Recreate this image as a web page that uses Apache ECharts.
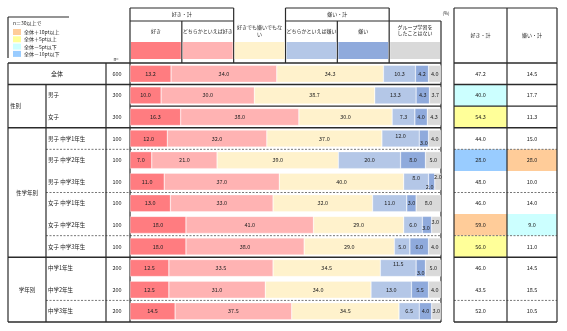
<!DOCTYPE html>
<html>
<head>
<meta charset="utf-8">
<script src="https://cdn.jsdelivr.net/npm/echarts@6/dist/echarts.min.js"></script>
<style>
  html, body { margin: 0; padding: 0; background: #fff; }
  #chart { width: 567px; height: 331px; }
</style>
</head>
<body>
<div id="chart"></div>
<script>
// Row labels and sample sizes
const rowLabels = ['全体', '男子', '女子', '男子 中学1年生', '男子 中学2年生', '男子 中学3年生',
  '女子 中学1年生', '女子 中学2年生', '女子 中学3年生', '中学1年生', '中学2年生', '中学3年生'];
const sampleSizes = [600, 300, 300, 100, 100, 100, 100, 100, 100, 200, 200, 200];

// Answer categories (stack order, left to right)
const seriesNames = ['好き', 'どちらかといえば好き', '好きでも嫌いでもない',
  'どちらかといえば嫌い', '嫌い', 'グループ学習をしたことはない'];

// Percentages per row
const like          = [13.2, 10.0, 16.3, 12.0, 7.0, 11.0, 13.0, 18.0, 18.0, 12.5, 12.5, 14.5];
const ratherLike    = [34.0, 30.0, 38.0, 32.0, 21.0, 37.0, 33.0, 41.0, 38.0, 33.5, 31.0, 37.5];
const neither       = [34.3, 38.7, 30.0, 37.0, 39.0, 40.0, 32.0, 29.0, 29.0, 34.5, 34.0, 34.5];
const ratherDislike = [10.3, 13.3, 7.3, 12.0, 20.0, 8.0, 11.0, 6.0, 5.0, 11.5, 13.0, 6.5];
const dislike       = [4.2, 4.3, 4.0, 3.0, 8.0, 2.0, 3.0, 3.0, 6.0, 3.0, 5.5, 4.0];
const neverDone     = [4.0, 3.7, 4.3, 4.0, 5.0, 2.0, 8.0, 3.0, 4.0, 5.0, 4.0, 3.0];

// Summary columns
const likeTotal    = [47.2, 40.0, 54.3, 44.0, 28.0, 48.0, 46.0, 59.0, 56.0, 46.0, 43.5, 52.0];
const dislikeTotal = [14.5, 17.7, 11.3, 15.0, 28.0, 10.0, 14.0, 9.0, 11.0, 14.5, 18.5, 10.5];

// Legend of the highlight rule (difference from 全体)
const legendTitle = 'n＝30以上で';
const legendItems = ['全体＋10pt以上', '全体＋5pt以上', '全体－5pt以下', '全体－10pt以下'];

const values = [like, ratherLike, neither, ratherDislike, dislike, neverDone];

// ---- styling / layout ----
const COLORS = ['#ff7c80', '#ffb3b3', '#fff2cc', '#b4c7e7', '#8faadc', '#d9d9d9'];
const HILITE = ['#ffcc99', '#ffff99', '#ccffff', '#99ccff'];
const FONT = '"Noto Sans CJK JP", "Noto Sans", sans-serif';
const INK = '#222';
const LINE = '#2b2b2b';

const G = { left: 130, top: 63, width: 311, height: 259 };
const rowH = G.height / rowLabels.length;
const rowTop = i => G.top + rowH * i;
const rowMid = i => G.top + rowH * (i + 0.5);
const X = { outer: 8, sub: 46, n: 106, barL: 130, barR: 441, tL: 454, tM: 507, tR: 557 };

// label nudges for crowded small segments: [row, series] -> offset
const labelNudge = {
  '3-3': [0, -3], '3-4': [0, 4],
  '5-3': [0, -4], '5-4': [-2, 5], '5-5': [0, -5],
  '7-4': [-1, 3], '7-5': [-1, -3],
  '9-3': [0, -4], '9-4': [0, 5]
};

// separators below each row (between row i and i+1)
const rowRules = ['full', 'bar', 'full', 'dash', 'none', 'dash', 'none', 'dash', 'full', 'none', 'dash'];

const groups = [
  { name: '性別', from: 1, to: 2, x: 10, align: 'left' },
  { name: '性学年別', from: 3, to: 8, x: 27, align: 'center' },
  { name: '学年別', from: 9, to: 11, x: 27, align: 'center' }
];

function txt(x, y, text, size, align) {
  return {
    type: 'text', x: x, y: y, silent: true,
    style: { text: text, fill: INK, fontSize: size || 5.5, fontFamily: FONT,
      align: align || 'center', verticalAlign: 'middle' }
  };
}
function seg(x1, y1, x2, y2, width, dash, color) {
  return {
    type: 'line', silent: true,
    shape: { x1: x1, y1: y1, x2: x2, y2: y2 },
    style: { stroke: color || LINE, lineWidth: width || 1.2, lineDash: dash || null }
  };
}
function box(x, y, w, h, color) {
  return { type: 'rect', silent: true, shape: { x: x, y: y, width: w, height: h }, style: { fill: color } };
}

const el = [];

// legend box
el.push(seg(8, 17, 69, 17, 1.2));
el.push(seg(8, 17, 8, 58, 1.2));
el.push(txt(13, 23, legendTitle, 5, 'left'));
legendItems.forEach((t, k) => {
  const y = 32 + k * 7.3;
  el.push(box(13, y - 3, 8, 6, HILITE[k]));
  el.push(txt(24, y, t, 5, 'left'));
});

// header of the bar block
const colW = G.width / 6;
const colX = k => G.left + colW * k;
el.push(seg(colX(0), 8, colX(2), 8));
el.push(seg(colX(3), 8, colX(5), 8));
el.push(seg(colX(0), 21, colX(2), 21));
el.push(seg(colX(3), 21, colX(6), 21));
[0, 2, 3, 5].forEach(k => el.push(seg(colX(k), 8, colX(k), G.top)));
[1, 4, 6].forEach(k => el.push(seg(colX(k), 21, colX(k), G.top)));
el.push(txt((colX(0) + colX(2)) / 2, 14.5, '好き・計', 5));
el.push(txt((colX(3) + colX(5)) / 2, 14.5, '嫌い・計', 5));
el.push(txt((colX(0) + colX(1)) / 2, 31, seriesNames[0], 5));
el.push(txt((colX(1) + colX(2)) / 2, 31, seriesNames[1], 5));
el.push(txt((colX(2) + colX(3)) / 2, 27.5, '好きでも嫌いでもな', 5));
el.push(txt((colX(2) + colX(3)) / 2, 34, 'い', 5));
el.push(txt((colX(3) + colX(4)) / 2, 31, seriesNames[3], 5));
el.push(txt((colX(4) + colX(5)) / 2, 31, seriesNames[4], 5));
el.push(txt((colX(5) + colX(6)) / 2, 27, 'グループ学習を', 5));
el.push(txt((colX(5) + colX(6)) / 2, 33.5, 'したことはない', 5));
COLORS.forEach((c, k) => el.push(box(colX(k) + 1, 42, colW - 2, 17, c)));
el.push(txt(446, 13, '(%)', 4.5));
el.push(txt(116, 59, 'n=', 4.5));

// summary table header
el.push(seg(X.tL, 8, X.tR, 8));
el.push(txt((X.tL + X.tM) / 2, 35, '好き・計', 5));
el.push(txt((X.tM + X.tR) / 2, 35, '嫌い・計', 5));

// summary cells with highlight rule
function hiliteColor(v, base) {
  const d = v - base;
  if (d >= 10) return HILITE[0];
  if (d >= 5) return HILITE[1];
  if (d <= -10) return HILITE[3];
  if (d <= -5) return HILITE[2];
  return null;
}
rowLabels.forEach((lab, i) => {
  if (i > 0 && sampleSizes[i] >= 30) {
    const c1 = hiliteColor(likeTotal[i], likeTotal[0]);
    const c2 = hiliteColor(dislikeTotal[i], dislikeTotal[0]);
    if (c1) el.push(box(X.tL, rowTop(i), X.tM - X.tL, rowH, c1));
    if (c2) el.push(box(X.tM, rowTop(i), X.tR - X.tM, rowH, c2));
  }
  el.push(txt((X.tL + X.tM) / 2, rowMid(i), likeTotal[i].toFixed(1), 5.5));
  el.push(txt((X.tM + X.tR) / 2, rowMid(i), dislikeTotal[i].toFixed(1), 5.5));
  el.push(txt(117, rowMid(i), String(sampleSizes[i]), 5.5));
  if (i === 0) el.push(txt((X.outer + X.n) / 2, rowMid(0), lab, 6));
  else el.push(txt(48, rowMid(i), lab, 5.5, 'left'));
});
groups.forEach(g => el.push(txt(g.x, (rowTop(g.from) + rowTop(g.to + 1)) / 2, g.name, 5.5, g.align)));

// horizontal rules of the body
const bottom = rowTop(rowLabels.length);
el.push(seg(X.outer, G.top, X.barR, G.top, 1.5));
el.push(seg(X.tL, G.top, X.tR, G.top, 1.5));
rowRules.forEach((r, i) => {
  const y = rowTop(i + 1);
  if (r === 'full') {
    el.push(seg(X.outer, y, X.barR, y, 1.5));
    el.push(seg(X.tL, y, X.tR, y, 1.5));
  } else if (r === 'bar') {
    el.push(seg(X.barL, y, X.barR, y, 1.2));
    el.push(seg(X.tL, y, X.tR, y, 1.2));
  } else if (r === 'dash') {
    el.push(seg(X.sub, y, X.barR, y, 1, [2, 1.5], '#777'));
    el.push(seg(X.tL, y, X.tR, y, 1, [2, 1.5], '#777'));
  }
});
el.push(seg(X.outer, bottom, X.barR, bottom, 1.5));
el.push(seg(X.tL, bottom, X.tR, bottom, 1.5));

// vertical rules of the body
el.push(seg(X.outer, G.top, X.outer, bottom));
el.push(seg(X.sub, rowTop(1), X.sub, bottom));
el.push(seg(X.n, G.top, X.n, bottom));
el.push(seg(X.barL, G.top, X.barL, bottom));
el.push(seg(X.barR, G.top, X.barR, bottom));
el.push(seg(X.tL, 8, X.tL, bottom));
el.push(seg(X.tM, 8, X.tM, bottom));
el.push(seg(X.tR, 8, X.tR, bottom));

const series = seriesNames.map((name, s) => ({
  name: name,
  type: 'bar',
  stack: 'total',
  barWidth: 17,
  itemStyle: { color: COLORS[s], borderColor: 'rgba(255,255,255,0.6)', borderWidth: 0.5 },
  label: {
    show: true, position: 'inside', color: INK, fontSize: 5.5, fontFamily: FONT,
    formatter: p => Number(p.value).toFixed(1)
  },
  data: values[s].map((v, i) => {
    const off = labelNudge[i + '-' + s];
    return off ? { value: v, label: { offset: off } } : v;
  })
}));

const chart = echarts.init(document.getElementById('chart'), null, { renderer: 'canvas' });
chart.setOption({
  animation: false,
  grid: { left: G.left, top: G.top, width: G.width, height: G.height, containLabel: false },
  xAxis: { type: 'value', min: 0, max: 100, show: false },
  yAxis: { type: 'category', data: rowLabels, inverse: true, show: false },
  series: series,
  graphic: { elements: el }
});
</script>
</body>
</html>
